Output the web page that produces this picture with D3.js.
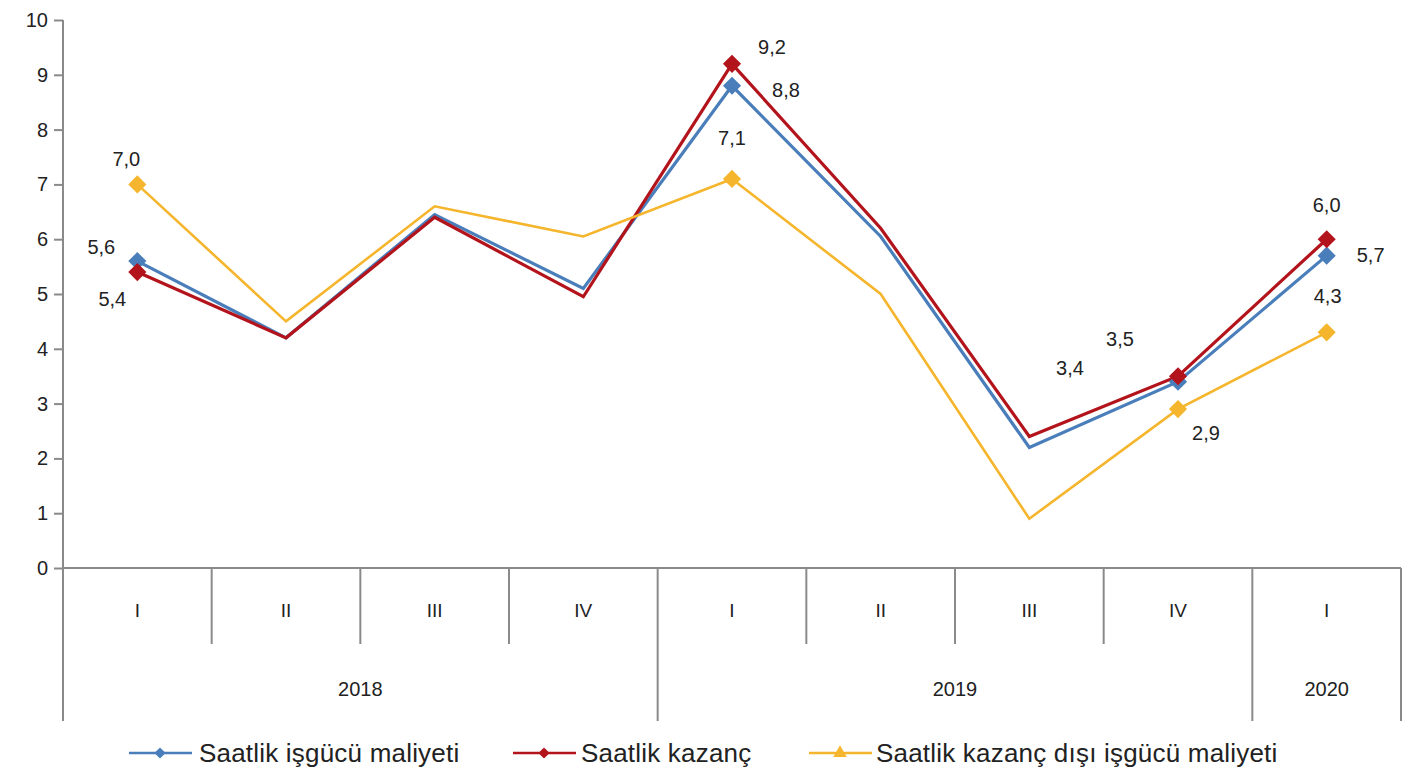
<!DOCTYPE html>
<html>
<head>
<meta charset="utf-8">
<script src="https://cdn.jsdelivr.net/npm/d3@7"></script>
<style>
	body { margin: 0; background: #fff; }
	svg text { font-family: "Liberation Sans", Arial, sans-serif; fill: #222; }
</style>
</head>
<body>
<svg id="chart" width="1415" height="778"></svg>
<script>
// quarters and years on the category axis
const quarters = ["I", "II", "III", "IV", "I", "II", "III", "IV", "I"];
const years = [
	{ year: "2018", from: 0, to: 4 },
	{ year: "2019", from: 4, to: 8 },
	{ year: "2020", from: 8, to: 9 }
];
const yTicks = [0, 1, 2, 3, 4, 5, 6, 7, 8, 9, 10];

// series values (annual change, %)
const isgucuMaliyeti = [5.6, 4.2, 6.45, 5.1, 8.8, 6.05, 2.2, 3.4, 5.7];
const kazanc = [5.4, 4.2, 6.4, 4.95, 9.2, 6.2, 2.4, 3.5, 6.0];
const kazancDisi = [7.0, 4.5, 6.6, 6.05, 7.1, 5.0, 0.9, 2.9, 4.3];

// which points carry a marker + label
const labelled = [0, 4, 7, 8];

const series = [
	{ name: "Saatlik işgücü maliyeti", values: isgucuMaliyeti, color: "#4a7ebb", width: 3.2, legendMarker: "diamond",
		labelPos: { 0: [-36, -14], 4: [54, 4], 7: [-108, -14], 8: [44, -1] } },
	{ name: "Saatlik kazanç", values: kazanc, color: "#b3141c", width: 3.2, legendMarker: "diamond",
		labelPos: { 0: [-25, 27], 4: [40, -17], 7: [-58, -37], 8: [0, -34] } },
	{ name: "Saatlik kazanç dışı işgücü maliyeti", values: kazancDisi, color: "#f5b52c", width: 2.6, legendMarker: "triangle",
		labelPos: { 0: [-11, -25], 4: [0, -41], 7: [28, 24], 8: [1, -36] } }
];

const svg = d3.select("#chart");

const x = d3.scaleBand()
	.domain(d3.range(quarters.length))
	.range([63, 1401]);

const y = d3.scaleLinear()
	.domain([0, 10])
	.range([568, 20]);

const axisColor = "#8a8a8a";

// y axis
const yAxis = d3.axisLeft(y)
	.tickValues(yTicks)
	.tickSize(9)
	.tickFormat(d3.format("d"));

const yg = svg.append("g")
	.attr("transform", "translate(" + x.range()[0] + ",0)")
	.call(yAxis);
yg.select(".domain").remove();
yg.selectAll(".tick line").attr("stroke", axisColor).attr("stroke-width", 2);
yg.selectAll(".tick text")
	.attr("x", -15)
	.style("font-size", "20px")
	.style("font-family", "Liberation Sans, Arial, sans-serif")
	.attr("fill", "#222");

// vertical axis line, extending down through the category block
svg.append("line")
	.attr("x1", x.range()[0]).attr("x2", x.range()[0])
	.attr("y1", y(10)).attr("y2", 721)
	.attr("stroke", axisColor).attr("stroke-width", 2);

// baseline
svg.append("line")
	.attr("x1", x.range()[0]).attr("x2", x.range()[1])
	.attr("y1", y(0)).attr("y2", y(0))
	.attr("stroke", axisColor).attr("stroke-width", 2);

// quarter separators (longer ones between years)
const yearStarts = new Set(years.map(d => d.from).concat([quarters.length]));
d3.range(1, quarters.length + 1).forEach(i => {
	const xx = i === quarters.length ? x.range()[1] : x(i);
	svg.append("line")
		.attr("x1", xx).attr("x2", xx)
		.attr("y1", y(0)).attr("y2", yearStarts.has(i) ? 721 : 644)
		.attr("stroke", axisColor).attr("stroke-width", 2);
});

// quarter labels
svg.append("g").selectAll("text")
	.data(quarters)
	.enter().append("text")
	.attr("x", (d, i) => x(i) + x.bandwidth() / 2)
	.attr("y", 617)
	.attr("text-anchor", "middle")
	.style("font-size", "19px")
	.text(d => d);

// year labels
svg.append("g").selectAll("text")
	.data(years)
	.enter().append("text")
	.attr("x", d => (x(d.from) + (d.to === quarters.length ? x.range()[1] : x(d.to))) / 2)
	.attr("y", 696)
	.attr("text-anchor", "middle")
	.style("font-size", "20px")
	.text(d => d.year);

// lines
const line = d3.line()
	.x((d, i) => x(i) + x.bandwidth() / 2)
	.y(d => y(d));

const diamond = d3.symbol().type(d3.symbolDiamond2).size(210);

series.forEach(s => {
	svg.append("path")
		.datum(s.values)
		.attr("d", line)
		.attr("fill", "none")
		.attr("stroke", s.color)
		.attr("stroke-width", s.width)
		.attr("stroke-linejoin", "miter");
});

// markers (red on top of blue)
const drawOrder = [2, 0, 1];
drawOrder.forEach(k => {
	const s = series[k];
	labelled.forEach(i => {
		svg.append("path")
			.attr("d", diamond)
			.attr("transform", "translate(" + (x(i) + x.bandwidth() / 2) + "," + y(s.values[i]) + ")")
			.attr("fill", s.color);
	});
});

// data labels
series.forEach(s => {
	labelled.forEach(i => {
		const off = s.labelPos[i];
		svg.append("text")
			.attr("x", x(i) + x.bandwidth() / 2 + off[0])
			.attr("y", y(s.values[i]) + off[1] + 7)
			.attr("text-anchor", "middle")
			.style("font-size", "20px")
			.text(d3.format(".1f")(s.values[i]).replace(".", ","));
	});
});

// legend
const legendItems = [
	{ s: series[0], x: 129, textX: 199 },
	{ s: series[1], x: 513, textX: 581 },
	{ s: series[2], x: 809, textX: 876 }
];
const legendY = 753;
const triangle = d3.symbol().type(d3.symbolTriangle).size(80);
const smallDiamond = d3.symbol().type(d3.symbolDiamond2).size(80);

legendItems.forEach(item => {
	const g = svg.append("g");
	g.append("line")
		.attr("x1", item.x).attr("x2", item.x + 63)
		.attr("y1", legendY).attr("y2", legendY)
		.attr("stroke", item.s.color).attr("stroke-width", 2.5);
	g.append("path")
		.attr("d", item.s.legendMarker === "triangle" ? triangle : smallDiamond)
		.attr("transform", "translate(" + (item.x + 31) + "," + legendY + ")")
		.attr("fill", item.s.color);
	g.append("text")
		.attr("x", item.textX)
		.attr("y", legendY + 9)
		.style("font-size", "26px")
		.style("letter-spacing", "0.2px")
		.text(item.s.name);
});
</script>
</body>
</html>
